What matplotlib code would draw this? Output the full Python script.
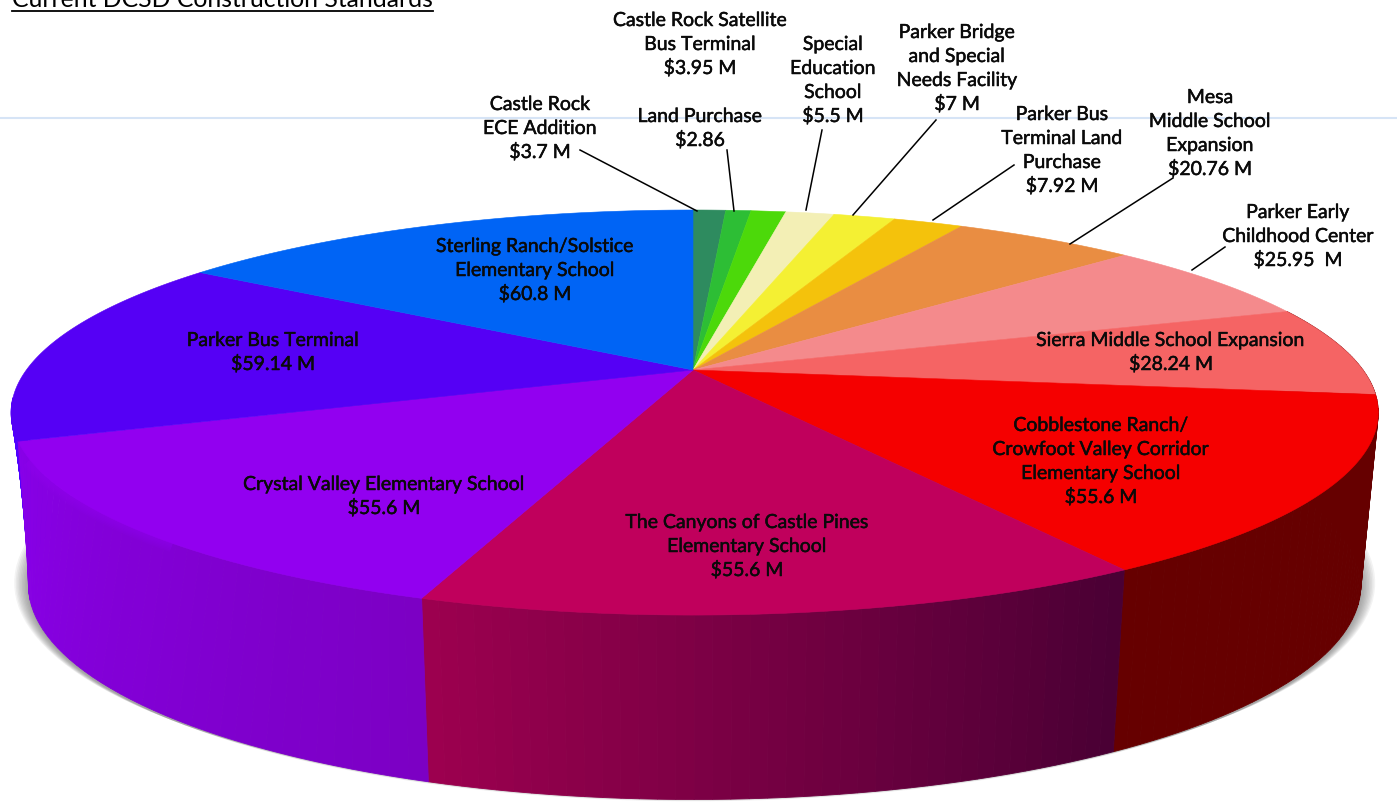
import numpy as np
import matplotlib
matplotlib.use('Agg')
import matplotlib.pyplot as plt
import matplotlib.patheffects as pe
from matplotlib.colors import to_rgb

# Project values in $M, clockwise from 12 o'clock
projects = ['Castle Rock ECE Addition', 'Land Purchase', 'Castle Rock Satellite Bus Terminal',
            'Special Education School', 'Parker Bridge and Special Needs Facility',
            'Parker Bus Terminal Land Purchase', 'Mesa Middle School Expansion',
            'Parker Early Childhood Center', 'Sierra Middle School Expansion',
            'Cobblestone Ranch/Crowfoot Valley Corridor Elementary School',
            'The Canyons of Castle Pines Elementary School',
            'Crystal Valley Elementary School', 'Parker Bus Terminal',
            'Sterling Ranch/Solstice Elementary School']
values = [3.7, 2.86, 3.95, 5.5, 7, 7.92, 20.76, 25.95, 28.24, 55.6, 55.6, 55.6, 59.14, 60.8]

top_colors = ['#2e8b5f', '#2dbe35', '#4cd90a', '#f3efb5', '#f4f033', '#f4c20c', '#e98d42',
              '#f48a8c', '#f56464', '#f50000', '#c0005c', '#9200f0', '#5500f5', '#0064f5']

# side wall colour at the start and end of a slice (clockwise), only the front ones show
# listed back to front so the crystal wall lands over the blue sliver
wall_colors = {12: ('#5000ff', '#5000ff'), 8: ('#660000', '#660000'), 9: ('#660000', '#660000'),
               10: ('#4a0034', '#9c004f'), 11: ('#7c00c4', '#8800e8')}

# label text with centre x and y of the first line, in pixels
labels = [
    (['Castle Rock', 'ECE Addition', '$3.7 M'], 540, 103),
    (['Land Purchase', '$2.86'], 700, 115),
    (['Castle Rock Satellite', 'Bus Terminal', '$3.95 M'], 700, 19),
    (['Special', 'Education', 'School', '$5.5 M'], 833, 43),
    (['Parker Bridge', 'and Special', 'Needs Facility', '$7 M'], 957, 31),
    (['Parker Bus', 'Terminal Land', 'Purchase', '$7.92 M'], 1062, 113),
    (['Mesa', 'Middle School', 'Expansion', '$20.76 M'], 1210, 96),
    (['Parker Early', 'Childhood Center', '$25.95  M'], 1298, 211),
    (['Sierra Middle School Expansion', '$28.24 M'], 1171, 339),
    (['Cobblestone Ranch/', 'Crowfoot Valley Corridor', 'Elementary School', '$55.6 M'], 1101, 424),
    (['The Canyons of Castle Pines', 'Elementary School', '$55.6 M'], 747, 521),
    (['Crystal Valley Elementary School', '$55.6 M'], 384, 483),
    (['Parker Bus Terminal', '$59.14 M'], 273, 339),
    (['Sterling Ranch/Solstice', 'Elementary School', '$60.8 M'], 535, 245),
]

leaders = [((580, 150), (697, 211)), ((727, 150), (734, 211)), ((822, 130), (806, 210)),
           ((936, 120), (853, 215)), ((1014, 165), (933, 220)), ((1173, 178), (1070, 244)),
           ((1225, 247), (1192, 270))]

# perspective of the disc: apex x, tilt, then width/height/centre for top and bottom face
CX = 693
TILT = 0.21
TOP = (670, 193.6, 370)
BOTTOM = (653, 205, 540)


def project(angle, face):
    # angle in degrees clockwise from the top, returns pixel position on the rim
    a = np.radians(angle)
    x, y = np.sin(a), np.cos(a)
    d = 1 + TILT * y
    # left half sits a touch narrower than the right
    w = face[0] * np.where(x < 0, 0.995, 1.0)
    return CX + w * x / d, face[2] - face[1] * y / d


def rim(a0, a1, face, n=120):
    return project(np.linspace(a0, a1, n), face)


def foot(angle):
    # seams lean outwards on the left, so the bottom rim runs ahead of the top rim
    return angle + 10 * np.clip((angle - 199) / 51, 0, None)


fig = plt.figure(figsize=(13.97, 8.02), dpi=100)
ax = fig.add_axes([0, 0, 1, 1])
ax.set_xlim(0, 1397)
ax.set_ylim(802, 0)
ax.axis('off')

ax.plot([0, 1397], [118, 118], color='#d6e4f6', lw=1.5, zorder=1)

# soft shadow under the disc
for grow in np.arange(14, 0, -1.5):
    sx, sy = rim(0, 360, (BOTTOM[0] + grow, BOTTOM[1], BOTTOM[2] + 2 - grow * 0.3), 200)
    ax.fill(sx, sy, color='#555555', alpha=0.07, lw=0, zorder=2)

edges = np.concatenate([[0], np.cumsum(values)]) / np.sum(values) * 360

# side walls with the colour running along the rim
for i, (c0, c1) in wall_colors.items():
    # the last front slice turns out of sight about 12 degrees in
    end = min(edges[i + 1], edges[i] + 12) if i == 12 else edges[i + 1]
    angles = np.linspace(edges[i], end, 41)
    c0, c1 = np.array(to_rgb(c0)), np.array(to_rgb(c1))
    for j in range(40):
        tx, ty = rim(angles[j], angles[j + 1], TOP, 3)
        bx, by = rim(foot(angles[j]), foot(angles[j + 1]), BOTTOM, 3)
        col = c0 + (c1 - c0) * j / 39
        ax.fill(np.r_[tx, bx[::-1]], np.r_[ty, by[::-1]], color=col, lw=0.6, zorder=3)

# blurred rim on the left part of the crystal slice
gx, gy = rim(edges[11] + 22, edges[12] - 5, TOP)
for width in np.arange(3, 15, 2):
    ax.plot(gx, gy, color=top_colors[11], lw=width, alpha=0.12, solid_capstyle='butt', zorder=3.5)

# top face
for i, col in enumerate(top_colors):
    rx, ry = rim(edges[i], edges[i + 1], TOP)
    ax.fill(np.r_[CX, rx], np.r_[TOP[2], ry], color=col, lw=0.4, zorder=4)

for (x0, y0), (x1, y1) in leaders:
    ax.plot([x0, x1], [y0, y1], color='black', lw=1.1, zorder=5)

heavy = [pe.withStroke(linewidth=0.35, foreground='#0a0a0a')]
for lines, x, y in labels:
    for n, line in enumerate(lines):
        ax.text(x, y + n * 24 + 7, line.replace('$', r'\$'), ha='center', va='baseline',
                family='Lato', fontsize=14, color='#0a0a0a', zorder=6, path_effects=heavy)

# title runs off the top edge of the picture
ax.text(222, 7, 'Current DCSD Construction Standards', ha='center', va='baseline',
        family='Lato', fontsize=17.8, color='black', zorder=6)
ax.plot([12, 433], [11, 11], color='black', lw=1.3, zorder=6)

fig.savefig('out.png', dpi=100)
